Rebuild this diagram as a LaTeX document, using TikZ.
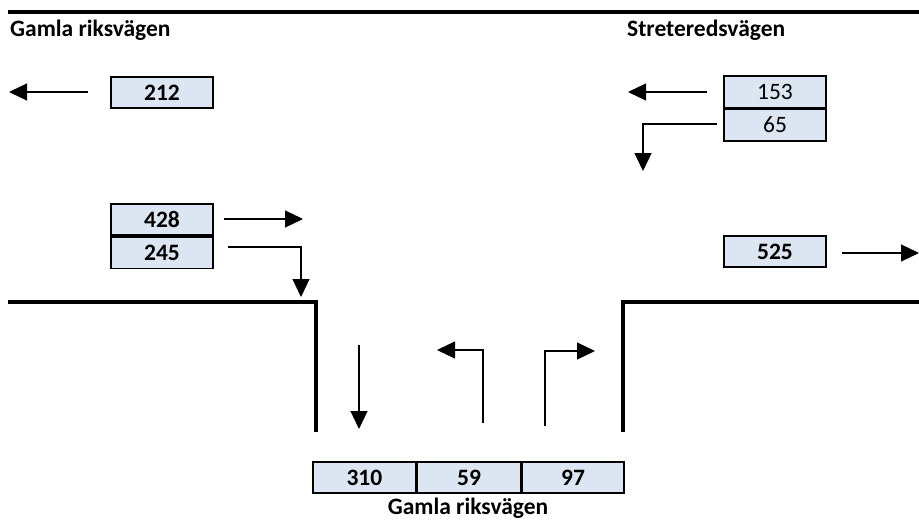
\documentclass[tikz,border=0pt]{standalone}
\usepackage{fontspec}
\setmainfont{Carlito}
\usetikzlibrary{arrows.meta}
\definecolor{cellfill}{HTML}{DCE6F2}
\tikzset{
  cell/.style={draw=black, line width=1.6pt, fill=cellfill, minimum width=102pt, minimum height=31.5pt, inner sep=0pt, font=\fontsize{23.5}{23.5}\selectfont\bfseries},
  cellplain/.style={cell, font=\fontsize{23.5}{23.5}\selectfont},
  flow/.style={line width=1.2pt, -{Triangle[length=18pt,width=17pt]}},
  road/.style={line width=4pt},
  title/.style={font=\fontsize{23.5}{23.5}\selectfont\bfseries, inner sep=0pt}
}
\begin{document}
\begin{tikzpicture}[x=1pt,y=-1pt]
\useasboundingbox (0,0) rectangle (919,522);
% roads
\draw[road] (8,12) -- (919,12);
\draw[road] (8,302) -- (316,302) -- (316,432);
\draw[road] (623,432) -- (623,302) -- (919,302);
% titles
\node[title, anchor=west] (tl) at (10,30) {Gamla riksvägen};
\node[title, anchor=west] (tr) at (627,30) {Streteredsvägen};
\node[title] (tb) at (468,508) {Gamla riksvägen};
% boxes
\node[cell] (b212) at (162,92.5) {212};
\node[cellplain] (b153) at (775,92) {153};
\node[cellplain, anchor=north] (b65) at (b153.south) {65};
\node[cell] (b428) at (162,219.5) {428};
\node[cell, anchor=north] (b245) at (b428.south) {245};
\node[cell] (b525) at (775,251.5) {525};
\node[cell, minimum width=103pt] (b59) at (469,477.5) {59};
\node[cell, anchor=east, minimum width=103pt] (b310) at (b59.west) {310};
\node[cell, anchor=west, minimum width=102pt] (b97) at (b59.east) {97};
% arrow coordinates
\coordinate (a1s) at (88,92);   \coordinate (a1e) at (9,92);
\coordinate (a2s) at (707,92);  \coordinate (a2e) at (628,92);
\coordinate (a3s) at (717,124); \coordinate (a3c) at (643,124); \coordinate (a3e) at (643,171);
\coordinate (a4s) at (224,219); \coordinate (a4e) at (303,219);
\coordinate (a5s) at (228,247); \coordinate (a5c) at (301,247); \coordinate (a5e) at (301,297);
\coordinate (a6s) at (842,253); \coordinate (a6e) at (919,253);
\coordinate (a7s) at (359,345); \coordinate (a7e) at (359,429);
\coordinate (a8s) at (483,423); \coordinate (a8c) at (483,350); \coordinate (a8e) at (437,350);
\coordinate (a9s) at (545,426); \coordinate (a9c) at (545,351); \coordinate (a9e) at (595,351);
% arrows
\draw[flow] (a1s) -- (a1e);
\draw[flow] (a2s) -- (a2e);
\draw[flow] (a3s) -- (a3c) -- (a3e);
\draw[flow] (a4s) -- (a4e);
\draw[flow] (a5s) -- (a5c) -- (a5e);
\draw[flow] (a6s) -- (a6e);
\draw[flow] (a7s) -- (a7e);
\draw[flow] (a8s) -- (a8c) -- (a8e);
\draw[flow] (a9s) -- (a9c) -- (a9e);
\end{tikzpicture}
\end{document}
